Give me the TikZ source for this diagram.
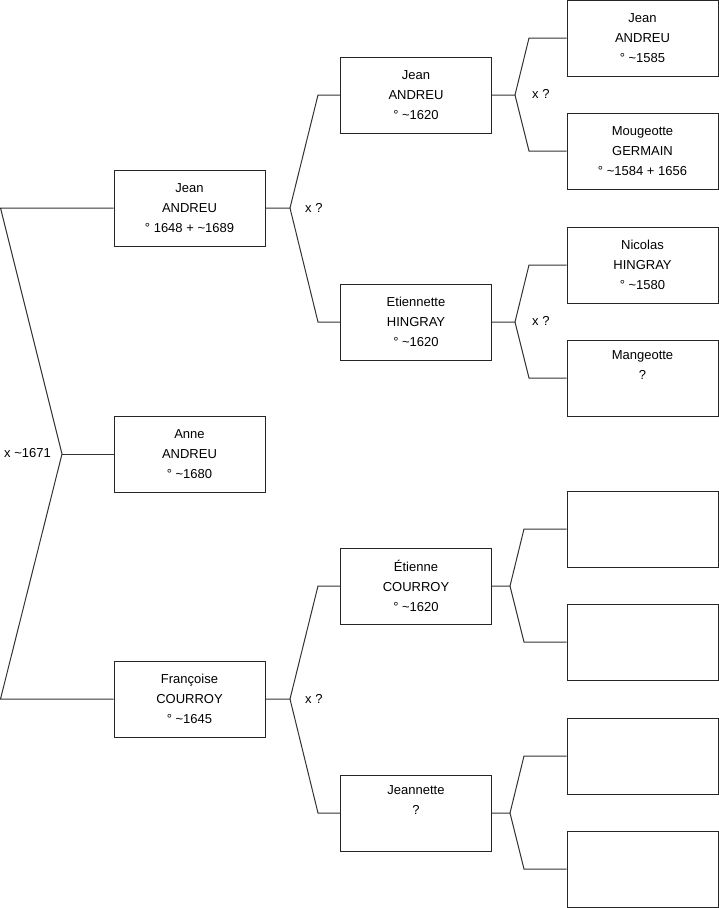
\documentclass[tikz,border=0pt]{standalone}
\usepackage{fontspec}
\setmainfont{Liberation Sans}
\begin{document}
\begin{tikzpicture}[x=1pt,y=-1pt,
  person/.style={draw=black!85,line width=1pt,rectangle,minimum width=151pt,minimum height=76pt,inner sep=0pt,align=center,font=\fontsize{13}{20}\selectfont},
  link/.style={draw=black!80,line width=1pt},
  marr/.style={font=\fontsize{13}{14}\selectfont,inner sep=0pt,anchor=west}]
\useasboundingbox (0,0) rectangle (719,908);
% generation 1
\node[person] (jean1) at (189.5,208) {Jean\\ANDREU\\° 1648 + \textasciitilde1689};
\node[person] (anne) at (189.5,454) {Anne\\ANDREU\\° \textasciitilde1680};
\node[person] (franc) at (189.5,699) {Françoise\\COURROY\\° \textasciitilde1645};
% generation 2
\node[person] (jean2) at (416,95) {Jean\\ANDREU\\° \textasciitilde1620};
\node[person] (etiennette) at (416,322) {Etiennette\\HINGRAY\\° \textasciitilde1620};
\node[person] (etienne) at (416,586) {Étienne\\COURROY\\° \textasciitilde1620};
\node[person] (jeannette) at (416,813) {Jeannette\\?\\\strut};
% generation 3
\node[person] (jean3) at (642.5,38) {Jean\\ANDREU\\° \textasciitilde1585};
\node[person] (mougeotte) at (642.5,151) {Mougeotte\\GERMAIN\\° \textasciitilde1584 + 1656};
\node[person] (nicolas) at (642.5,265) {Nicolas\\HINGRAY\\° \textasciitilde1580};
\node[person] (mangeotte) at (642.5,378) {Mangeotte\\?\\\strut};
\node[person] (e1) at (642.5,529) {};
\node[person] (e2) at (642.5,642) {};
\node[person] (e3) at (642.5,756) {};
\node[person] (e4) at (642.5,869) {};
% junction points
\coordinate (topL) at (0.5,208);
\coordinate (botL) at (0.5,699);
\coordinate (vA) at (62,454);
\coordinate (v1) at (290,208);
\coordinate (v1u) at (318,95);
\coordinate (v1d) at (318,322);
\coordinate (v2) at (290,699);
\coordinate (v2u) at (318,586);
\coordinate (v2d) at (318,813);
\coordinate (w1) at (515,95);
\coordinate (w1u) at (529,38);
\coordinate (w1d) at (529,151);
\coordinate (w2) at (515,322);
\coordinate (w2u) at (529,265);
\coordinate (w2d) at (529,378);
\coordinate (w3) at (510,586);
\coordinate (w3u) at (524,529);
\coordinate (w3d) at (524,642);
\coordinate (w4) at (510,813);
\coordinate (w4u) at (524,756);
\coordinate (w4d) at (524,869);
% connectors
\draw[link] (jean1.west) -- (topL) -- (vA) -- (botL) -- (franc.west);
\draw[link] (vA) -- (anne.west);
\draw[link] (jean1.east) -- (v1) -- (v1u) -- (jean2.west);
\draw[link] (v1) -- (v1d) -- (etiennette.west);
\draw[link] (franc.east) -- (v2) -- (v2u) -- (etienne.west);
\draw[link] (v2) -- (v2d) -- (jeannette.west);
\draw[link] (jean2.east) -- (w1) -- (w1u) -- (jean3.west);
\draw[link] (w1) -- (w1d) -- (mougeotte.west);
\draw[link] (etiennette.east) -- (w2) -- (w2u) -- (nicolas.west);
\draw[link] (w2) -- (w2d) -- (mangeotte.west);
\draw[link] (etienne.east) -- (w3) -- (w3u) -- (e1.west);
\draw[link] (w3) -- (w3d) -- (e2.west);
\draw[link] (jeannette.east) -- (w4) -- (w4u) -- (e3.west);
\draw[link] (w4) -- (w4d) -- (e4.west);
% marriage labels
\node[marr] (m0) at (4,453) {x \textasciitilde1671};
\node[marr] (m1) at (305,208) {x ?};
\node[marr] (m2) at (305,699) {x ?};
\node[marr] (m3) at (532,94) {x ?};
\node[marr] (m4) at (532,321) {x ?};
\end{tikzpicture}
\end{document}
